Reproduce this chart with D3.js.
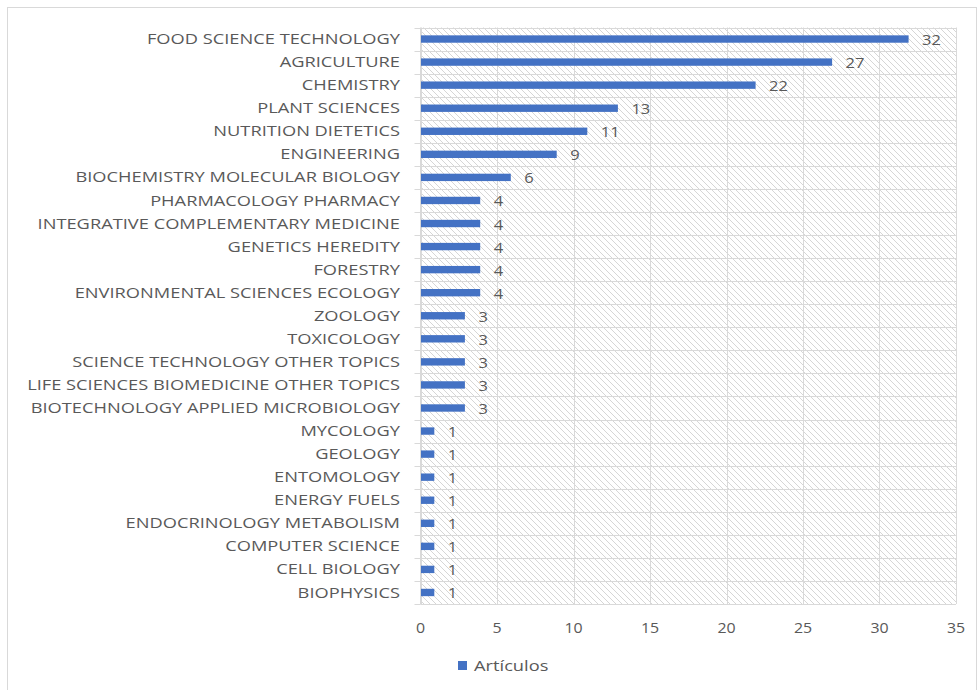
<!DOCTYPE html>
<html>
<head>
<meta charset="utf-8">
<script src="https://cdn.jsdelivr.net/npm/d3@7"></script>
<style>
  body { margin: 0; background: #fff; }
  text { font-family: "Open Sans", "Liberation Sans", sans-serif; fill: #595959; }
</style>
</head>
<body>
<div id="chart"></div>
<script>
// categories, top to bottom
const categories = [
  'FOOD SCIENCE TECHNOLOGY', 'AGRICULTURE', 'CHEMISTRY', 'PLANT SCIENCES',
  'NUTRITION DIETETICS', 'ENGINEERING', 'BIOCHEMISTRY MOLECULAR BIOLOGY',
  'PHARMACOLOGY PHARMACY', 'INTEGRATIVE COMPLEMENTARY MEDICINE', 'GENETICS HEREDITY',
  'FORESTRY', 'ENVIRONMENTAL SCIENCES ECOLOGY', 'ZOOLOGY', 'TOXICOLOGY',
  'SCIENCE TECHNOLOGY OTHER TOPICS', 'LIFE SCIENCES BIOMEDICINE OTHER TOPICS',
  'BIOTECHNOLOGY APPLIED MICROBIOLOGY', 'MYCOLOGY', 'GEOLOGY', 'ENTOMOLOGY',
  'ENERGY FUELS', 'ENDOCRINOLOGY METABOLISM', 'COMPUTER SCIENCE', 'CELL BIOLOGY',
  'BIOPHYSICS'
];
const articulos = [32, 27, 22, 13, 11, 9, 6, 4, 4, 4, 4, 4, 3, 3, 3, 3, 3, 1, 1, 1, 1, 1, 1, 1, 1];
const xTicks = [0, 5, 10, 15, 20, 25, 30, 35];
const seriesName = 'Artículos';

const W = 979, H = 690;
const plot = { left: 420.5, right: 956, top: 27.5, bottom: 604 };
const barColor = '#4472C4';
const gridColor = '#d9d9d9';
const stretch = 1.26; // reference text is horizontally stretched

const svg = d3.select('#chart').append('svg')
  .attr('width', W).attr('height', H);

// hatch pattern for plot background
const defs = svg.append('defs');
defs.append('pattern')
  .attr('id', 'hatch')
  .attr('patternUnits', 'userSpaceOnUse')
  .attr('width', 6).attr('height', 6)
  .call(p => {
    p.append('path').attr('d', 'M-1,-1 L7,7 M-1,5 L1,7 M5,-1 L7,1')
      .attr('stroke', '#d6d6d6').attr('stroke-width', 1);
  });

// outer border
svg.append('rect')
  .attr('x', 7.5).attr('y', 7.5).attr('width', 969).attr('height', 690)
  .attr('fill', 'none').attr('stroke', '#d9d9d9');

const x = d3.scaleLinear().domain([0, 35]).range([plot.left, plot.right]);
const y = d3.scaleBand().domain(categories).range([plot.top, plot.bottom]).paddingInner(0.68).paddingOuter(0.34);
const yBand = d3.scaleBand().domain(categories).range([plot.top, plot.bottom]);

svg.append('rect')
  .attr('x', plot.left).attr('y', plot.top)
  .attr('width', plot.right - plot.left).attr('height', plot.bottom - plot.top)
  .attr('fill', 'url(#hatch)');

// vertical gridlines
svg.append('g').selectAll('line').data(xTicks).join('line')
  .attr('x1', d => Math.round(x(d)) + 0.5).attr('x2', d => Math.round(x(d)) + 0.5)
  .attr('y1', plot.top).attr('y2', plot.bottom)
  .attr('stroke', gridColor);

// horizontal gridlines at band boundaries
const bounds = categories.map(c => yBand(c)).concat([plot.bottom]);
svg.append('g').selectAll('line').data(bounds).join('line')
  .attr('x1', plot.left).attr('x2', plot.right)
  .attr('y1', d => Math.round(d) + 0.5).attr('y2', d => Math.round(d) + 0.5)
  .attr('stroke', gridColor);

// y axis with ticks at band boundaries
const yAxisG = svg.append('g');
yAxisG.append('line')
  .attr('x1', plot.left).attr('x2', plot.left)
  .attr('y1', plot.top).attr('y2', plot.bottom)
  .attr('stroke', gridColor);
yAxisG.selectAll('line.tick').data(bounds).join('line')
  .attr('class', 'tick')
  .attr('x1', plot.left - 6).attr('x2', plot.left)
  .attr('y1', d => Math.round(d) + 0.5).attr('y2', d => Math.round(d) + 0.5)
  .attr('stroke', gridColor);

// category labels
svg.append('g').selectAll('text').data(categories).join('text')
  .attr('transform', d => `translate(400,${yBand(d) + yBand.bandwidth() / 2}) scale(${stretch},1)`)
  .attr('dy', '0.35em')
  .attr('text-anchor', 'end')
  .attr('font-size', 14.5)
  .text(d => d);

// bars
svg.append('g').selectAll('rect').data(articulos).join('rect')
  .attr('x', x(0) + 0.5)
  .attr('y', (d, i) => y(categories[i]))
  .attr('width', d => x(d) - x(0) - 2)
  .attr('height', y.bandwidth())
  .attr('fill', barColor);

// value labels
svg.append('g').selectAll('text').data(articulos).join('text')
  .attr('transform', (d, i) => `translate(${x(d) + 12},${yBand(categories[i]) + yBand.bandwidth() / 2}) scale(1.1,1)`)
  .attr('dy', '0.4em')
  .attr('font-size', 15)
  .attr('fill', '#404040')
  .text(d => d);

// x tick labels
svg.append('g').selectAll('text').data(xTicks).join('text')
  .attr('transform', d => `translate(${x(d)},628) scale(1.1,1)`)
  .attr('dy', '0.35em')
  .attr('text-anchor', 'middle')
  .attr('font-size', 14.5)
  .text(d => d);

// legend
const lg = svg.append('g').attr('transform', 'translate(458,666)');
lg.append('rect').attr('x', 0).attr('y', -5).attr('width', 9).attr('height', 9).attr('fill', barColor);
lg.append('text').attr('transform', `translate(16,0) scale(${stretch},1)`).attr('dy', '0.35em')
  .attr('font-size', 14.5).text(seriesName);
</script>
</body>
</html>
